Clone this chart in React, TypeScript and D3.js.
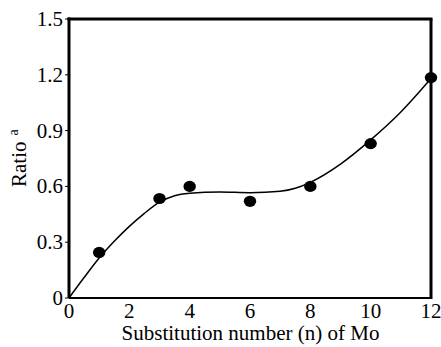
import React from 'react';
import * as d3 from 'd3';

// measured points
const nValues = [1, 3, 4, 6, 8, 10, 12];
const ratioValues = [0.245, 0.535, 0.6, 0.52, 0.6, 0.83, 1.185];

// fitted curve
const curveN = [0, 0.5, 1, 1.5, 2, 2.5, 3, 3.5, 4, 5, 6, 7, 7.5, 8, 9, 10, 11, 12];
const curveRatio = [0, 0.11, 0.215, 0.305, 0.385, 0.455, 0.515, 0.55, 0.563, 0.57, 0.566, 0.574, 0.59, 0.622, 0.72, 0.85, 1.0, 1.18];

const xTicks = [0, 2, 4, 6, 8, 10, 12];
const yTicks = [0, 0.3, 0.6, 0.9, 1.2, 1.5];

const width = 441;
const height = 347;
const marginLeft = 69;
const marginRight = 10;
const marginTop = 19;
const marginBottom = 49;

const textStyle = { fontFamily: 'Liberation Serif', fontSize: 21 };

const App: React.FC = () => {
    const x = d3.scaleLinear().domain([0, 12]).range([marginLeft, width - marginRight]);
    const y = d3.scaleLinear().domain([0, 1.5]).range([height - marginBottom, marginTop]);

    const line = d3.line<number>()
        .x((_, i) => x(curveN[i]))
        .y(d => y(d))
        .curve(d3.curveMonotoneX);

    const x0 = x(0), x1 = x(12), y0 = y(0), y1 = y(1.5);

    return (
        <svg width={width} height={height} viewBox={`0 0 ${width} ${height}`}
            style={{ position: 'absolute', left: 0, top: 0 }}>
            <rect width={width} height={height} fill="white" />
            <path d={line(curveRatio) ?? ''} fill="none" stroke="black" strokeWidth={1.5} />
            {nValues.map((n, i) => (
                <ellipse key={n} cx={x(n)} cy={y(ratioValues[i])} rx={6.2} ry={5.6} fill="black" />
            ))}
            {/* frame */}
            <line x1={x0} x2={x0} y1={y0} y2={y1 - 1.5} stroke="black" strokeWidth={3} />
            <line x1={x0 - 1.5} x2={x1 + 1.5} y1={y1} y2={y1} stroke="black" strokeWidth={3} />
            <line x1={x1} x2={x1} y1={y1} y2={y0 + 1} stroke="black" strokeWidth={3} />
            <line x1={x0} x2={x1} y1={y0} y2={y0} stroke="black" strokeWidth={2} />
            {yTicks.map(t => (
                <g key={t}>
                    <line x1={x0 - 4} x2={x0} y1={y(t)} y2={y(t)} stroke="black" strokeWidth={1} />
                    <text x={x0 - 6} y={y(t) + 7} textAnchor="end" style={textStyle}>
                        {t === 0 ? '0' : t.toFixed(1)}
                    </text>
                </g>
            ))}
            {xTicks.map(t => (
                <text key={t} x={x(t)} y={317.5} textAnchor="middle" style={textStyle}>{t}</text>
            ))}
            <text x={250.5} y={339.5} textAnchor="middle" style={textStyle}>
                Substitution number (n) of Mo
            </text>
            <text transform={`translate(26, 187) rotate(-90)`} textAnchor="start" style={textStyle}>
                Ratio<tspan style={{ fontSize: 14 }} dy={-8} dx={6}>a</tspan>
            </text>
        </svg>
    );
};

export default App;
